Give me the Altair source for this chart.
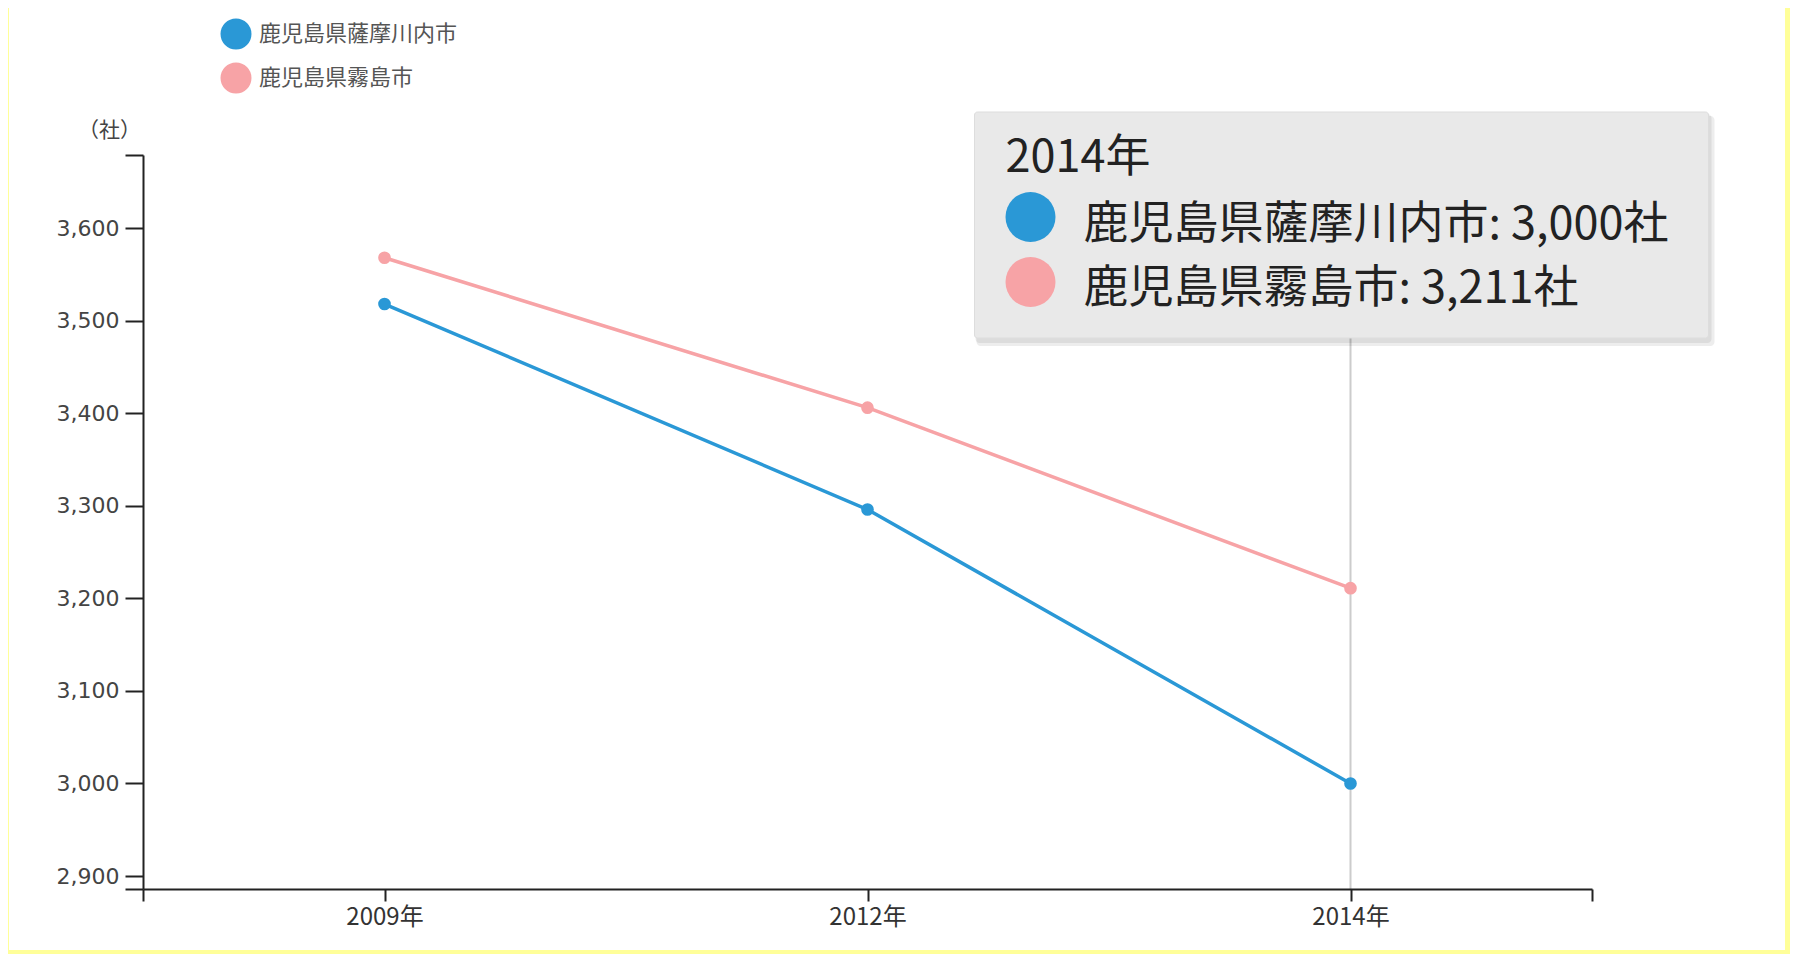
import json
import altair as alt
import pandas as pd

# ---- data ----
years = ["2009年", "2012年", "2014年"]
series_names = ["鹿児島県薩摩川内市", "鹿児島県霧島市"]
satsumasendai = [3518, 3296, 3000]
kirishima = [3568, 3406, 3211]
series_values = [satsumasendai, kirishima]
colors = ["#2a98d6", "#f7a3a6"]
y_ticks = [2900, 3000, 3100, 3200, 3300, 3400, 3500, 3600]
y_domain = [2886, 3679]
unit = "社"

rows = []
for name, vals in zip(series_names, series_values):
    for i, (yr, v) in enumerate(zip(years, vals)):
        rows.append({"idx": i, "year": yr, "series": name, "value": v})
df = pd.DataFrame(rows)

last = len(years) - 1
tip_rows = pd.DataFrame({
    "series": series_names,
    "label": [f"{n}: {vals[-1]:,}{unit}" for n, vals in zip(series_names, series_values)],
})

W, H = 1449, 734
CJK = "Noto Sans CJK JP"

x_labels_expr = "datum.value % 1 === 0 ? " + json.dumps(years) + "[datum.value] : ''"
x_scale = alt.Scale(domain=[-0.5, last + 0.5], nice=False, zero=False)
y_scale = alt.Scale(domain=y_domain, nice=False, zero=False)
color_scale = alt.Scale(domain=series_names, range=colors)

x_enc = alt.X("idx:Q", scale=x_scale, axis=alt.Axis(
    values=[-0.5] + list(range(len(years))) + [last + 0.5],
    labelExpr=x_labels_expr, title=None, grid=False, zindex=1,
    tickSize=12, labelPadding=4, labelFont=CJK, labelFontSize=24,
    labelColor="#333", domainColor="#222", tickColor="#222",
    domainWidth=2, tickWidth=2, labelFlush=False))
y_enc = alt.Y("value:Q", scale=y_scale, axis=alt.Axis(
    values=[y_domain[0]] + y_ticks + [y_domain[1]],
    labelExpr="datum.value % 100 === 0 ? format(datum.value, ',') : ''",
    title="（社）", titleAngle=0, titleX=-34, titleY=-25, titleAlign="center",
    titleBaseline="middle", titleFont=CJK, titleFontSize=21, titleFontWeight="normal",
    titleColor="#444", grid=False, tickSize=18, labelPadding=6, zindex=1,
    labelFont="DejaVu Sans", labelFontSize=22, labelColor="#444",
    domainColor="#222", tickColor="#222", domainWidth=2, tickWidth=2))

base = alt.Chart(df)

# white page area inside the yellow frame
page = alt.Chart(tip_rows.head(1)).mark_rect(color="white").encode(
    x=alt.value(-134), x2=alt.value(1642), y=alt.value(-147), y2=alt.value(795))

rule = alt.Chart(pd.DataFrame({"idx": [last]})).mark_rule(
    color="#cccccc", strokeWidth=2).encode(x=alt.X("idx:Q", scale=x_scale))

lines = base.mark_line(strokeWidth=3.5).encode(
    x=x_enc, y=y_enc,
    stroke=alt.Stroke("series:N", scale=color_scale, legend=None))

points = base.mark_point(filled=True, size=160, opacity=1).encode(
    x=alt.X("idx:Q", scale=x_scale), y=alt.Y("value:Q", scale=y_scale),
    color=alt.Color("series:N", scale=color_scale, legend=None))

# legend (top-left, above the plot)
legend_layers = []
for k, name in enumerate(series_names):
    one = pd.DataFrame({"series": [name]})
    legend_layers.append(alt.Chart(one).mark_point(
        filled=True, size=960, opacity=1, color=colors[k]).encode(
        x=alt.value(93), y=alt.value(-121 + 44 * k)))
    legend_layers.append(alt.Chart(one).mark_text(
        align="left", baseline="middle", font=CJK, fontSize=22, color="#555").encode(
        x=alt.value(116), y=alt.value(-121 + 44 * k), text="series:N"))

shadow1 = alt.Chart(tip_rows.head(1)).mark_rect(
    color="#000", opacity=0.07, cornerRadius=4, xOffset=-374, x2Offset=364).encode(
    x=alt.X(datum=last, scale=x_scale), x2=alt.X2(datum=last),
    y=alt.value(-39), y2=alt.value(191))
shadow2 = alt.Chart(tip_rows.head(1)).mark_rect(
    color="#000", opacity=0.07, cornerRadius=4, xOffset=-375, x2Offset=361).encode(
    x=alt.X(datum=last, scale=x_scale), x2=alt.X2(datum=last),
    y=alt.value(-41), y2=alt.value(188))
box = alt.Chart(tip_rows.head(1)).mark_rect(
    color="#e9e9e9", stroke="#dddddd", strokeWidth=1, cornerRadius=3,
    xOffset=-376, x2Offset=358).encode(
    x=alt.X(datum=last, scale=x_scale), x2=alt.X2(datum=last),
    y=alt.value(-43), y2=alt.value(183))

tip_title = alt.Chart(pd.DataFrame({"t": [years[last]]})).mark_text(
    align="left", baseline="alphabetic", dx=-345, font=CJK, fontSize=45,
    color="#222").encode(x=alt.X(datum=last, scale=x_scale), y=alt.value(17), text="t:N")

tip_layers = []
for k, name in enumerate(series_names):
    one = tip_rows[tip_rows["series"] == name]
    tip_layers.append(alt.Chart(one).mark_point(
        filled=True, size=2500, opacity=1, xOffset=-320, color=colors[k]).encode(
        x=alt.X(datum=last, scale=x_scale), y=alt.value(62 + 65 * k)))
    tip_layers.append(alt.Chart(one).mark_text(
        align="left", baseline="alphabetic", dx=-267, font=CJK, fontSize=45,
        color="#222").encode(
        x=alt.X(datum=last, scale=x_scale), y=alt.value(84 + 64 * k), text="label:N"))

chart = alt.layer(
    page, rule, lines, points, *legend_layers, shadow1, shadow2, box, tip_title, *tip_layers
).properties(
    width=W, height=H,
    autosize=alt.AutoSizeParams(type="none"),
    padding={"left": 135, "top": 147, "right": 198, "bottom": 65},
    background="#ffff99",
).configure_view(stroke=None)

chart.save("out.html", embed_options={"renderer": "svg", "actions": False})
